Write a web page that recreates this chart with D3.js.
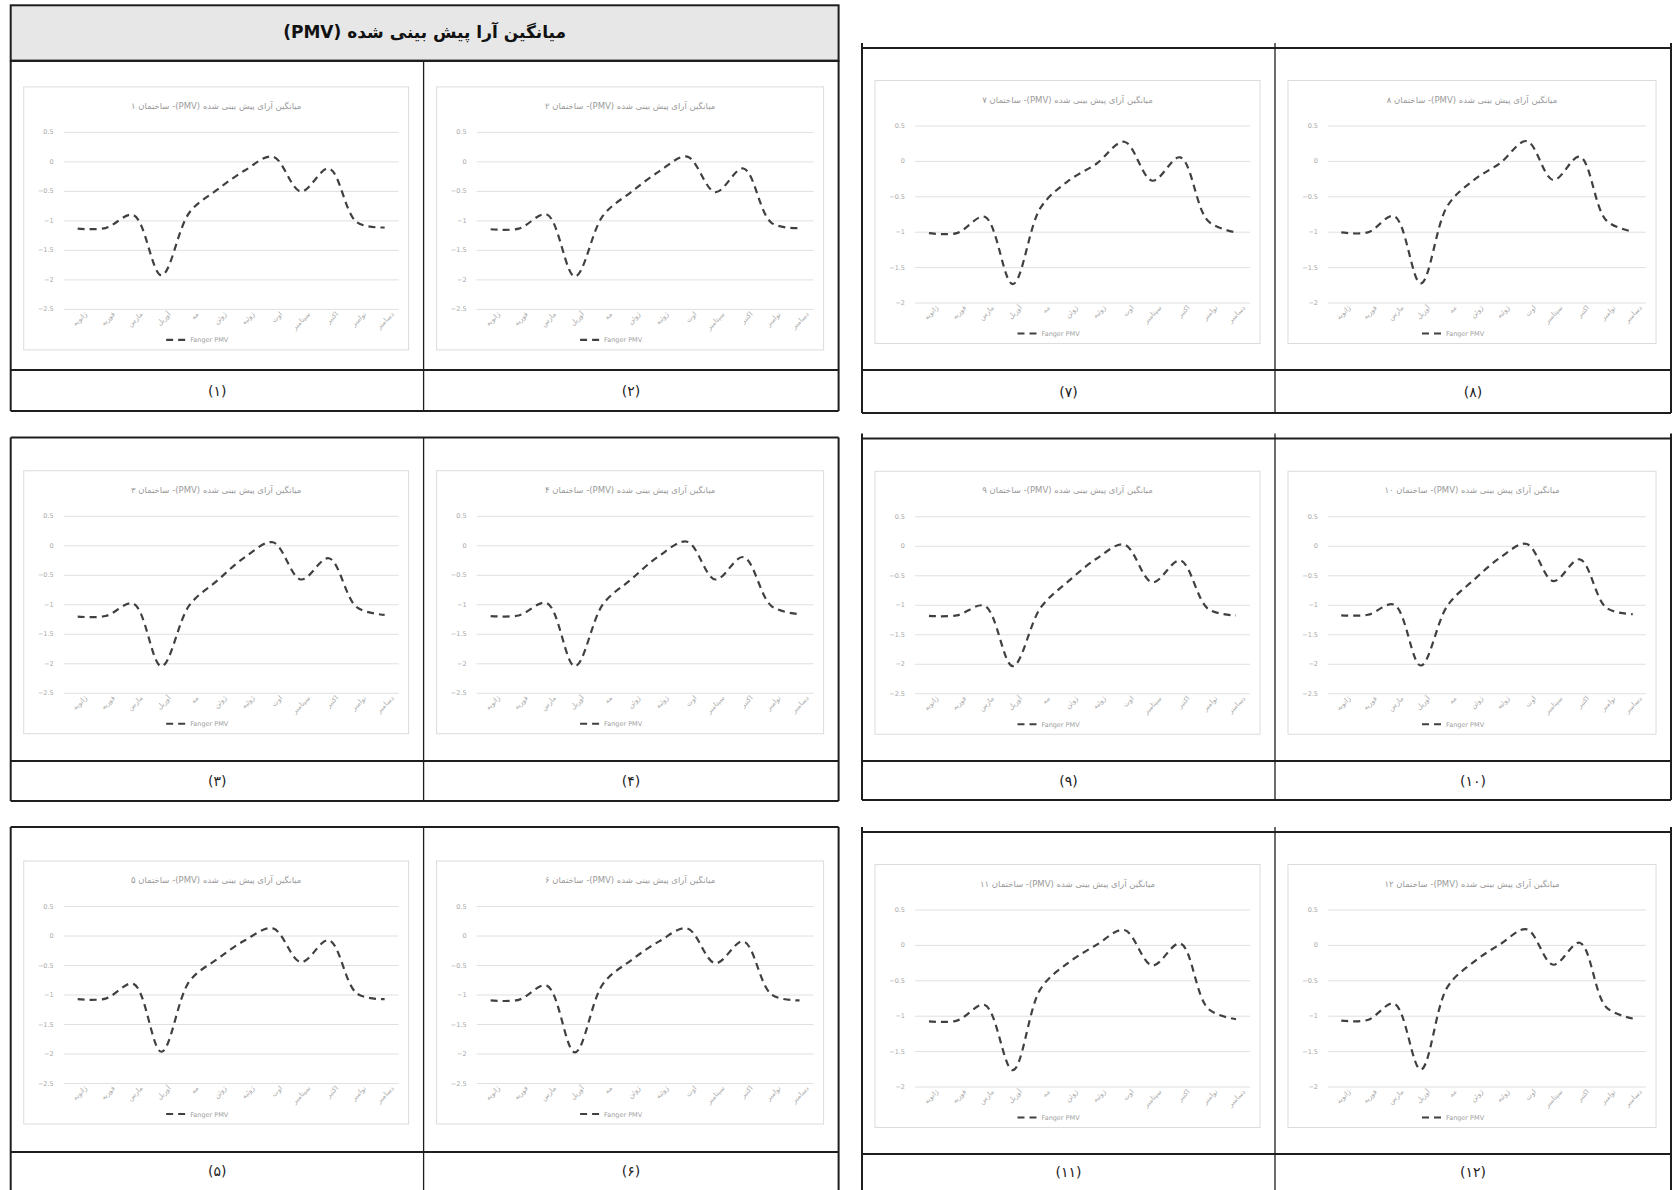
<!DOCTYPE html>
<html><head><meta charset="utf-8">
<script src="https://cdn.jsdelivr.net/npm/d3@7"></script>
<style>
html,body{margin:0;padding:0;background:#fff;}
svg{display:block;}
</style></head>
<body>
<svg id="c" width="1673" height="1190"></svg>
<script>
// ---------- DATA ----------
const mainTitle = "میانگین آرا پیش بینی شده (PMV)";
const chartTitlePrefix = "میانگین آرای پیش بینی شده (PMV)- ساختمان ";
const legendLabel = "Fanger PMV";
const months = ["ژانویه","فوریه","مارس","آوریل","مه","ژوئن","ژوئیه","اوت","سپتامبر","اکتبر","نوامبر","دسامبر"];
const captions = ["(۱)","(۲)","(۳)","(۴)","(۵)","(۶)","(۷)","(۸)","(۹)","(۱۰)","(۱۱)","(۱۲)"];
const buildingNums = ["۱","۲","۳","۴","۵","۶","۷","۸","۹","۱۰","۱۱","۱۲"];
const ticksWide = [0.5, 0, -0.5, -1, -1.5, -2, -2.5];
const ticksNarrow = [0.5, 0, -0.5, -1, -1.5, -2];
const pmv1  = [-1.14,-1.13,-0.91,-1.93,-0.87,-0.48,-0.15,0.08,-0.51,-0.12,-1.03,-1.12];
const pmv2  = [-1.15,-1.14,-0.90,-1.95,-0.92,-0.52,-0.17,0.08,-0.52,-0.12,-1.04,-1.13];
const pmv3  = [-1.21,-1.20,-0.99,-2.05,-1.02,-0.60,-0.20,0.05,-0.58,-0.22,-1.05,-1.18];
const pmv4  = [-1.20,-1.19,-0.98,-2.05,-1.00,-0.58,-0.18,0.06,-0.58,-0.20,-1.03,-1.17];
const pmv5  = [-1.08,-1.07,-0.82,-1.97,-0.78,-0.40,-0.08,0.12,-0.45,-0.08,-0.98,-1.08];
const pmv6  = [-1.10,-1.09,-0.85,-1.98,-0.82,-0.42,-0.10,0.12,-0.47,-0.10,-1.00,-1.10];
const pmv7  = [-1.02,-1.02,-0.79,-1.74,-0.66,-0.28,-0.04,0.27,-0.28,0.05,-0.85,-1.01];
const pmv8  = [-1.01,-1.01,-0.78,-1.73,-0.64,-0.27,-0.03,0.28,-0.27,0.06,-0.84,-1.00];
const pmv9  = [-1.19,-1.18,-1.02,-2.04,-1.05,-0.60,-0.22,0.02,-0.62,-0.25,-1.07,-1.18];
const pmv10 = [-1.18,-1.17,-1.00,-2.03,-1.02,-0.58,-0.20,0.03,-0.60,-0.23,-1.05,-1.16];
const pmv11 = [-1.08,-1.07,-0.85,-1.77,-0.62,-0.25,0.00,0.21,-0.29,0.02,-0.90,-1.05];
const pmv12 = [-1.07,-1.06,-0.83,-1.76,-0.60,-0.24,0.01,0.22,-0.28,0.03,-0.88,-1.04];
const series = [pmv1,pmv2,pmv3,pmv4,pmv5,pmv6,pmv7,pmv8,pmv9,pmv10,pmv11,pmv12];
const tickSets = [ticksWide,ticksWide,ticksWide,ticksWide,ticksWide,ticksWide,ticksNarrow,ticksNarrow,ticksWide,ticksWide,ticksNarrow,ticksNarrow];

// ---------- LAYOUT ----------
const svg = d3.select("#c");
const FA = "'DejaVu Sans', 'Noto Sans', sans-serif";
const LINE = "#1e1e1e";

const left = {x0:10.7, xd:423.6, x1:838.6};
const right = {x0:862, xd:1275, x1:1671};
// rows: [top, cellBottom, captionBottom]
const leftRows = [[60.8,370,411],[437.5,761,801],[827,1152,1196]];
const rightRows = [[48,370,413],[438.5,761,800],[832,1154,1196]];
// chart index in each [row][col], left-to-right
const leftIdx = [[0,1],[2,3],[4,5]];
const rightIdx = [[6,7],[8,9],[10,11]];

// header
svg.append("rect").attr("x",left.x0).attr("y",5.3).attr("width",left.x1-left.x0).attr("height",60.8-5.3)
  .attr("fill","#e7e7e7").attr("stroke",LINE).attr("stroke-width",2);
svg.append("text").attr("x",(left.x0+left.x1)/2).attr("y",38).attr("text-anchor","middle")
  .attr("font-family",FA).attr("font-weight","bold").attr("font-size",17).attr("fill","#111")
  .attr("direction","rtl").text(mainTitle);

function drawChart(idx, bx, by, bw, bh){
  const g = svg.append("g");
  g.append("rect").attr("x",bx).attr("y",by).attr("width",bw).attr("height",bh)
    .attr("fill","#fff").attr("stroke","#dcdcdc").attr("stroke-width",1);
  g.append("text").attr("x",bx+bw/2).attr("y",by+22).attr("text-anchor","middle")
    .attr("font-family",FA).attr("font-size",8.5).attr("fill","#9a9a9a").attr("direction","rtl")
    .text(chartTitlePrefix + buildingNums[idx]);
  const pl = bx+40, pr = bx+bw-10, pt = by+45, pb = by+bh-41;
  const ticks = tickSets[idx];
  const y = d3.scaleLinear().domain([d3.min(ticks), d3.max(ticks)]).range([pb, pt]);
  const xb = d3.scaleBand().domain(months).range([pl, pr]);
  const x = m => xb(m) + xb.bandwidth()/2;
  const ya = g.append("g").attr("transform",`translate(${pl},0)`)
    .call(d3.axisLeft(y).tickValues(ticks).tickSize(-(pr-pl)).tickPadding(10).tickFormat(d3.format("")));
  ya.select(".domain").remove();
  ya.selectAll(".tick line").attr("stroke","#e0e0e0").attr("stroke-width",1);
  ya.selectAll(".tick text").attr("font-family",FA).attr("font-size",6.5).attr("fill","#a8a8a8");
  const xa = g.append("g").attr("transform",`translate(0,${pb})`)
    .call(d3.axisBottom(xb).tickSize(0).tickPadding(6));
  xa.select(".domain").remove();
  xa.selectAll(".tick text").attr("font-family",FA).attr("font-size",7).attr("fill","#a8a8a8")
    .attr("text-anchor","end").attr("dx","0.4em").attr("dy","0.7em")
    .attr("transform","rotate(-45)");
  const line = d3.line().x((d,i)=>x(months[i])).y(d=>y(d)).curve(d3.curveCatmullRom.alpha(0.5));
  g.append("path").datum(series[idx]).attr("d",line).attr("fill","none")
    .attr("stroke","#404040").attr("stroke-width",2.2).attr("stroke-dasharray","7,5");
  const lx = bx+bw/2 - 30, ly = by+bh-10;
  g.append("line").attr("x1",lx-20).attr("x2",lx).attr("y1",ly).attr("y2",ly)
    .attr("stroke","#404040").attr("stroke-width",2.2).attr("stroke-dasharray","7,5");
  g.append("text").attr("x",lx+4).attr("y",ly+2.5).attr("font-family",FA).attr("font-size",6.5)
    .attr("fill","#a0a0a0").text(legendLabel);
}

function drawTable(t, rows, idxs){
  rows.forEach((r,ri)=>{
    const [top, cb, capb] = r;
    [[t.x0,t.xd],[t.xd,t.x1]].forEach((c,ci)=>{
      const cw = c[1]-c[0], ch = cb-top;
      const bh = 263, bw = cw-28;
      const by = top + (ch-bh)/2 + 3;
      const idx = idxs[ri][ci];
      drawChart(idx, c[0]+13, by, bw, bh);
      svg.append("text").attr("x",(c[0]+c[1])/2).attr("y",(cb+Math.min(capb,1190))/2+5)
        .attr("text-anchor","middle").attr("font-family",FA).attr("font-size",14).attr("fill","#222")
        .text(captions[idx]);
    });
    const lg = svg.append("g").attr("stroke",LINE).attr("fill","none");
    lg.append("line").attr("x1",t.x0).attr("x2",t.x1).attr("y1",top).attr("y2",top).attr("stroke-width",2.2);
    lg.append("line").attr("x1",t.x0).attr("x2",t.x1).attr("y1",cb).attr("y2",cb).attr("stroke-width",2);
    lg.append("line").attr("x1",t.x0).attr("x2",t.x1).attr("y1",capb).attr("y2",capb).attr("stroke-width",2);
    [t.x0,t.xd,t.x1].forEach(xx=>{
      lg.append("line").attr("x1",xx).attr("x2",xx).attr("y1",top-(t===right?5:0)).attr("y2",capb).attr("stroke-width",xx===t.xd?1.3:2);
    });
  });
}
drawTable(left, leftRows, leftIdx);
drawTable(right, rightRows, rightIdx);
</script>
</body></html>
